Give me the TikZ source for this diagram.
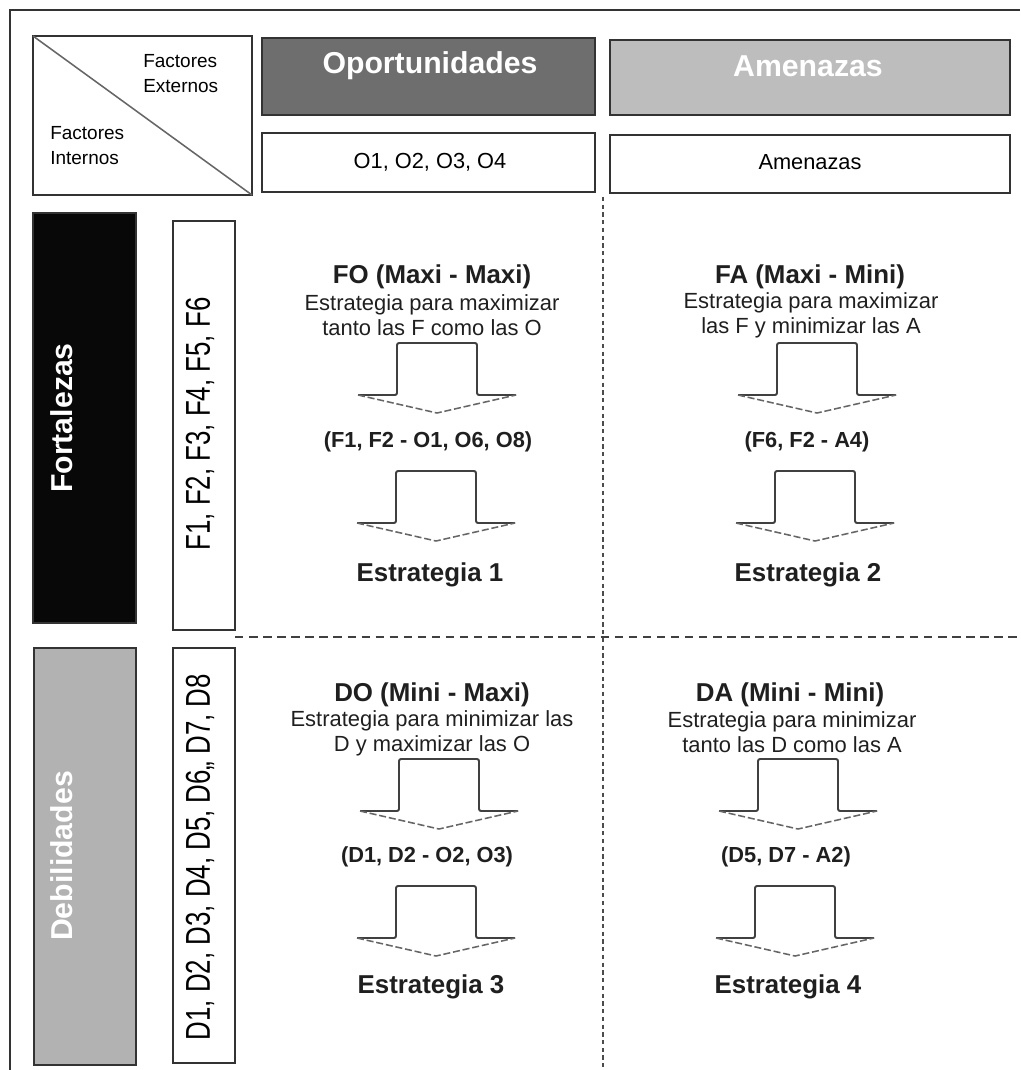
\documentclass[tikz,border=0pt]{standalone}
\usepackage{fontspec}
\setmainfont{Liberation Sans}
\begin{document}
\begin{tikzpicture}[x=0.025cm,y=-0.025cm,
  frameline/.style={draw=black!80, line width=1.8pt},
  box/.style={draw=black!80, line width=1.4pt},
  hdivider/.style={draw=black!75, line width=1.2pt, dash pattern=on 6pt off 4pt},
  vdivider/.style={draw=black!70, line width=1.2pt, dash pattern=on 3pt off 2.5pt},
  hdr/.style={text=white, font=\fontsize{21.5}{24}\selectfont\bfseries, inner sep=0pt},
  rowtext/.style={font=\fontsize{15.5}{18}\selectfont, inner sep=0pt},
  cornertext/.style={font=\fontsize{13.5}{17.7}\selectfont, align=left, inner sep=0pt, anchor=west},
  sidelabel/.style={text=white, font=\fontsize{21.5}{24}\selectfont\bfseries, rotate=90, inner sep=0pt},
  listtext/.style={font=\fontsize{24.5}{28}\selectfont, rotate=90, inner sep=0pt},
  title/.style={font=\fontsize{18.4}{22}\selectfont\bfseries, text=black!88, inner sep=0pt},
  desc/.style={font=\fontsize{15.6}{18}\selectfont, text=black!88, align=center, inner sep=0pt},
  pair/.style={font=\fontsize{15.5}{18}\selectfont\bfseries, text=black!88, inner sep=0pt},
  result/.style={font=\fontsize{18.4}{22}\selectfont\bfseries, text=black!88, inner sep=0pt},
  arrowline/.style={draw=black!75, line width=1.4pt, rounded corners=1.5pt},
  arrowtip/.style={draw=black!60, line width=1.1pt, dash pattern=on 5pt off 2pt},
  blockarrow/.pic={
    \draw[arrowline] (-79,52) -- (-40,52) -- (-40,0) -- (40,0) -- (40,52) -- (79,52);
    \draw[arrowtip] (-79,52) -- (0,70) -- (79,52);
  }]
\useasboundingbox (0,0) rectangle (1020,1070);

% outer frame
\draw[frameline] (10,1070) -- (10,10) -- (1020,10);

% corner cell with the diagonal
\draw[box] (33,36) rectangle (252,195);
\draw[draw=black!60, line width=1.1pt] (33,36) -- (252,195);
\node[cornertext] (ext) at (143,74) {Factores\\Externos};
\node[cornertext] (int) at (50,146) {Factores\\Internos};

% column headers
\draw[box, fill=black!57] (262,38) rectangle (595,115);
\node[hdr] (opp) at (430,66) {Oportunidades};
\draw[box, fill=black!26] (610,40) rectangle (1010,115);
\node[hdr] (ame) at (808,66) {Amenazas};
\draw[box] (262,133) rectangle (595,192);
\node[rowtext] (olist) at (430,162) {O1, O2, O3, O4};
\draw[box] (610,135) rectangle (1010,193);
\node[rowtext] (alist) at (810,162) {Amenazas};

% row headers
\draw[box, fill=black!97] (33,213) rectangle (136,623);
\node[sidelabel] (fort) at (62,418) {Fortalezas};
\draw[box] (173,221) rectangle (235,630);
\node[listtext] (flist) at (200,424) {\scalebox{0.75}[1]{F1, F2, F3, F4, F5, F6}};
\draw[box, fill=black!30] (34,648) rectangle (136,1065);
\node[sidelabel] (deb) at (62,856) {Debilidades};
\draw[box] (173,648) rectangle (235,1063);
\node[listtext] (dlist) at (200,857) {\scalebox{0.75}[1]{D1, D2, D3, D4, D5, D6,, D7, D8}};

% quadrant dividers
\draw[vdivider] (603,197) -- (603,1070);
\draw[hdivider] (235,637) -- (1020,637);

% FO quadrant
\node[title] (foT) at (432,277) {FO (Maxi - Maxi)};
\node[desc] (foD) at (432,315) {Estrategia para maximizar\\tanto las F como las O};
\pic at (437,343) {blockarrow};
\node[pair] (foP) at (428,442) {(F1, F2 - O1, O6, O8)};
\pic at (436,471) {blockarrow};
\node[result] (foR) at (430,575) {Estrategia 1};

% FA quadrant
\node[title] (faT) at (810,277) {FA (Maxi - Mini)};
\node[desc] (faD) at (811,315) {Estrategia para maximizar\\las F y minimizar las A};
\pic at (817,343) {blockarrow};
\node[pair] (faP) at (807,442) {(F6, F2 - A4)};
\pic at (815,471) {blockarrow};
\node[result] (faR) at (808,575) {Estrategia 2};

% DO quadrant
\node[title] (doT) at (432,695) {DO (Mini - Maxi)};
\node[desc] (doD) at (432,733) {Estrategia para minimizar las\\D y maximizar las O};
\pic at (439,759) {blockarrow};
\node[pair] (doP) at (427,857) {(D1, D2 - O2, O3)};
\pic at (436,886) {blockarrow};
\node[result] (doR) at (431,987) {Estrategia 3};

% DA quadrant
\node[title] (daT) at (790,695) {DA (Mini - Mini)};
\node[desc] (daD) at (792,732) {Estrategia para minimizar\\tanto las D como las A};
\pic at (798,759) {blockarrow};
\node[pair] (daP) at (786,857) {(D5, D7 - A2)};
\pic at (795,886) {blockarrow};
\node[result] (daR) at (788,987) {Estrategia 4};
\end{tikzpicture}
\end{document}
